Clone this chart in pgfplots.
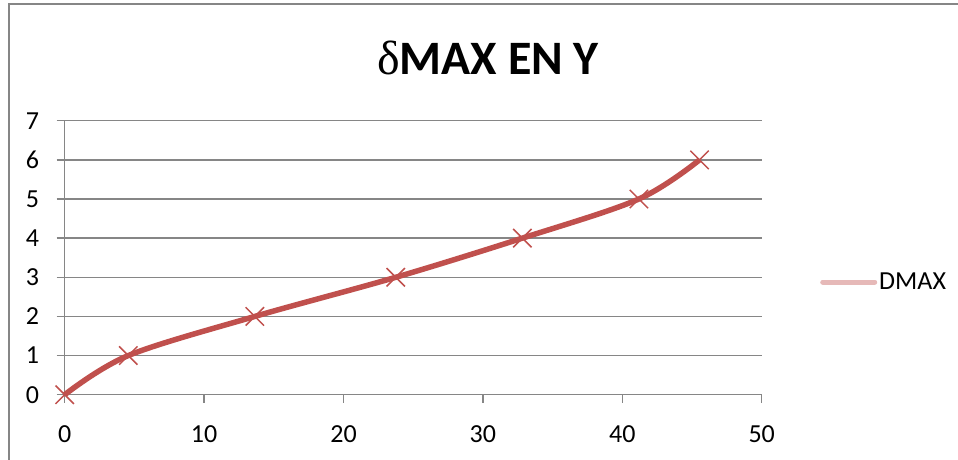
\documentclass[border=0pt]{standalone}
\usepackage{fontspec}
\setmainfont{Carlito}
\newfontfamily\greekfont{Liberation Serif}
\usepackage{pgfplots}
\pgfplotsset{compat=1.18}
\definecolor{ser}{HTML}{C0504D}
\definecolor{gridc}{HTML}{868686}
\definecolor{legc}{HTML}{E6B9B8}
\begin{document}
\begin{tikzpicture}[x=1pt,y=1pt]
\useasboundingbox (-64.7,-64.3) rectangle (893.3,394.7);
\draw[gridc, line width=2pt] (-55.7,-70) -- (-55.7,390.7) -- (900,390.7);
\begin{axis}[
  at={(0,0)}, anchor=origin,
  scale only axis, width=697pt, height=274pt,
  xmin=0, xmax=50, ymin=0, ymax=7,
  xtick={0,10,...,50}, ytick={0,1,...,7},
  axis lines=left, axis line style={-, gridc, line width=1.5pt},
  tick align=outside, major tick length=8pt,
  tick style={gridc, line width=1.5pt},
  ymajorgrids, grid style={gridc, line width=1.5pt},
  /pgf/number format/assume math mode=true,
  tick label style={font=\fontsize{26}{30}\selectfont, text=black},
  yticklabel style={xshift=-14pt},
  xticklabel style={yshift=-19pt},
  legend style={draw=none, fill=none, inner sep=0pt, anchor=west, at={(1.0837,0.411)},
    font=\fontsize{26}{30}\selectfont},
  legend image code/.code={\draw[line width=5pt, legc, line cap=round] (0pt,0pt) -- (52pt,0pt);},
  clip=false,
]
\addplot[ser, line width=5.5pt, smooth, tension=0.55, mark=x, mark size=13pt,
  mark options={line width=1.5pt, ser}] coordinates {
  (0,0) (4.56,1) (13.64,2) (23.75,3) (32.83,4) (41.19,5) (45.54,6)
};
\addlegendentry{DMAX}
\end{axis}
\node[font=\fontsize{48}{54}\selectfont\bfseries] at (423.3,336.7) {{\greekfont\mdseries δ}MAX EN Y};
\end{tikzpicture}
\end{document}
